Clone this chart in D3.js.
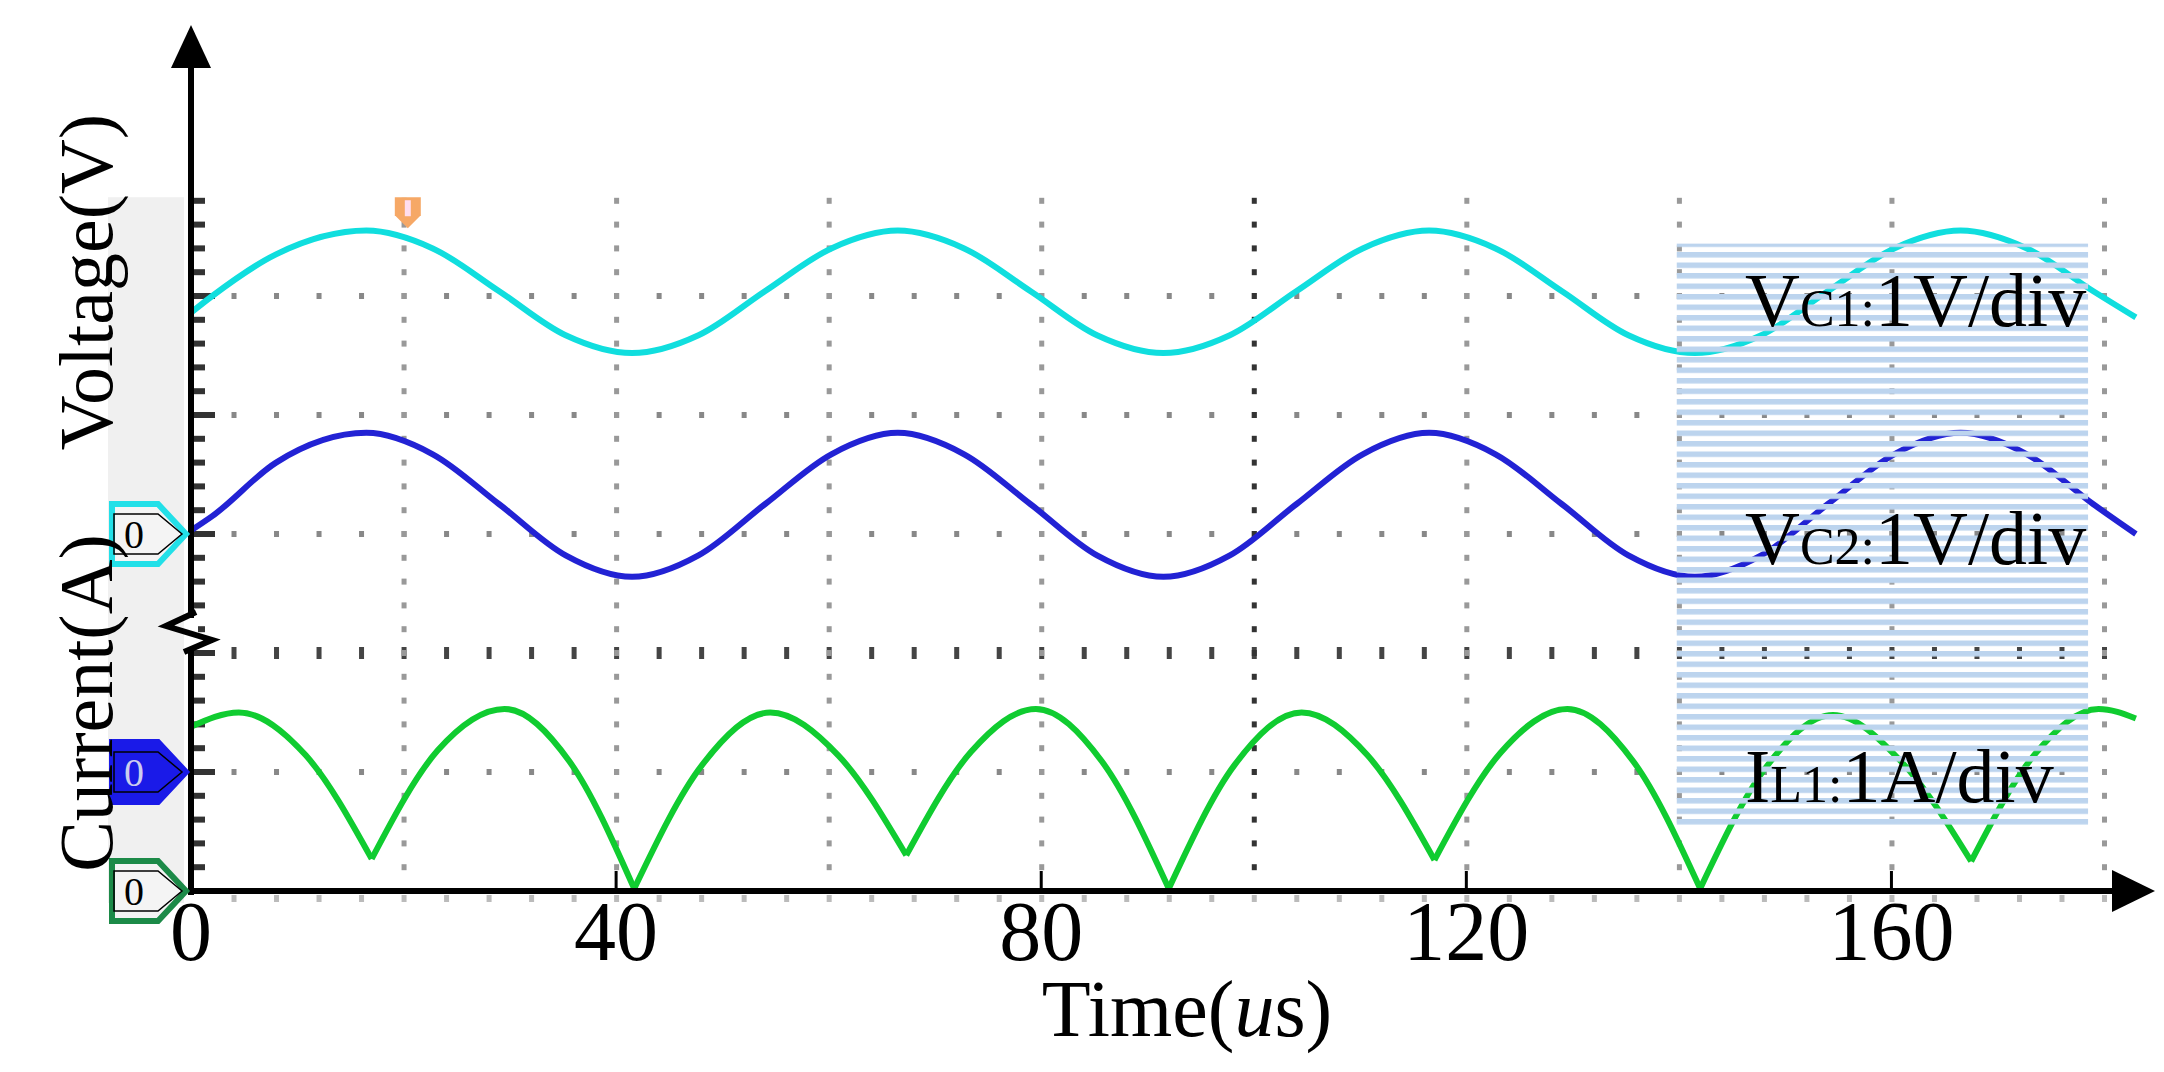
<!DOCTYPE html>
<html>
<head>
<meta charset="utf-8">
<script src="https://d3js.org/d3.v7.min.js"></script>
<style>
  body { margin: 0; background: #fff; }
  text { font-family: "Liberation Serif", "DejaVu Serif", serif; fill: #000; }
</style>
</head>
<body>
<svg id="chart" width="2164" height="1072"></svg>
<script>
// time axis (us)
var timeTicks = [0, 40, 80, 120, 160]
var gridTimes = [20, 40, 60, 80, 100, 120, 140, 160, 180]
var gridDivs = [1, 2, 3, 4, 5]

// traces, [time us, divisions above the x axis]
var vc1 = [[0, 4.86], [2, 5.0], [8, 5.35], [16.5, 5.55], [22.75, 5.40], [29, 5.04], [35.25, 4.67],
  [41.5, 4.52], [47.75, 4.67], [54, 5.04], [60.25, 5.40], [66.5, 5.55], [72.75, 5.40], [79, 5.04],
  [85.25, 4.67], [91.5, 4.52], [97.75, 4.67], [104, 5.04], [110.25, 5.40], [116.5, 5.55],
  [122.75, 5.40], [129, 5.04], [135.25, 4.67], [141.5, 4.52], [147.75, 4.67], [154, 5.04],
  [160.25, 5.40], [166.5, 5.55], [172.75, 5.40], [179, 5.04], [183, 4.82]]
var vc2 = [[0, 3.03], [2, 3.15], [8, 3.6], [16.5, 3.85], [22.75, 3.67], [29, 3.25], [35.25, 2.82],
  [41.5, 2.64], [47.75, 2.82], [54, 3.25], [60.25, 3.67], [66.5, 3.85], [72.75, 3.67], [79, 3.25],
  [85.25, 2.82], [91.5, 2.64], [97.75, 2.82], [104, 3.25], [110.25, 3.67], [116.5, 3.85],
  [122.75, 3.67], [129, 3.25], [135.25, 2.82], [141.5, 2.64], [147.75, 2.82], [154, 3.25],
  [160.25, 3.67], [166.5, 3.85], [172.75, 3.67], [179, 3.25], [183, 3.0]]
// inductor current, one arc between each pair of cusps
var il1Arcs = [
  [[0, 1.38], [4.5, 1.50], [10.8, 1.14], [17, 0.27]],
  [[17, 0.27], [23.2, 1.18], [29.5, 1.53], [35.6, 1.09], [41.7, 0.02]],
  [[41.7, 0.02], [48.1, 1.06], [54.5, 1.50], [60.9, 1.14], [67.3, 0.30]],
  [[67.3, 0.30], [73.4, 1.17], [79.5, 1.53], [85.7, 1.09], [92, 0.02]],
  [[92, 0.02], [98.2, 1.06], [104.5, 1.50], [110.7, 1.14], [117, 0.26]],
  [[117, 0.26], [123.2, 1.16], [129.5, 1.53], [135.7, 1.09], [142, 0.02]],
  [[142, 0.02], [148.2, 1.04], [154.5, 1.48], [161, 1.08], [167.5, 0.25]],
  [[167.5, 0.25], [173.5, 1.15], [179.5, 1.53], [183, 1.45]]
]
var traceLabels = [
  { main: 'V', sub: 'C1:', rest: '1V/div', div: 4.75 },
  { main: 'V', sub: 'C2:', rest: '1V/div', div: 2.75 },
  { main: 'I', sub: 'L1:', rest: '1A/div', div: 0.75 }
]
var markers = [
  { div: 3, color: '#22e0e8', fill: false },
  { div: 1, color: '#1a1ae8', fill: true },
  { div: 0, color: '#1c8a48', fill: false }
]

var svg = d3.select('#chart')
var x = d3.scaleLinear().domain([0, 180]).range([191, 2104])
var y = d3.scaleLinear().domain([0, 6]).range([891, 177])
var topDiv = 5.83

// grey strip left of the axis
svg.append('rect').attr('x', 108).attr('y', y(topDiv)).attr('width', 76)
  .attr('height', y(0) - y(topDiv) + 12).attr('fill', '#f0f0f0')

// dotted grid
var g = svg.append('g')
gridDivs.forEach(d => {
  d3.range(4, 181, 4).forEach(t => {
    g.append('rect').attr('x', x(t) - 2).attr('y', y(d) - (d == 2 ? 6 : 3))
      .attr('width', 5).attr('height', d == 2 ? 12 : 6).attr('fill', d == 2 ? '#444' : '#888')
  })
})
gridTimes.forEach(t => {
  d3.range(0.2, topDiv, 0.2).forEach(d => {
    g.append('rect').attr('x', x(t) - 2).attr('y', y(d) - 3)
      .attr('width', 5).attr('height', 6).attr('fill', t == 100 ? '#333' : '#999')
  })
})
// minor ticks on the y axis
d3.range(0.2, topDiv, 0.2).concat([0]).forEach(d => {
  g.append('rect').attr('x', 193).attr('y', y(d) - 3)
    .attr('width', Math.abs(d - Math.round(d)) < 0.01 ? 22 : 12).attr('height', 6).attr('fill', '#333')
})
// light ticks under the x axis
d3.range(4, 181, 4).forEach(t => {
  g.append('rect').attr('x', x(t) - 2).attr('y', y(0) + 4).attr('width', 5).attr('height', 7).attr('fill', '#bbb')
})

// traces
var line = d3.line().x(d => x(d[0])).y(d => y(d[1])).curve(d3.curveMonotoneX)
var plot = svg.append('g')
plot.append('path').attr('d', line(vc1)).attr('fill', 'none').attr('stroke', '#10dede').attr('stroke-width', 6)
plot.append('path').attr('d', line(vc2)).attr('fill', 'none').attr('stroke', '#2222d4').attr('stroke-width', 6)
il1Arcs.forEach(a => {
  plot.append('path').attr('d', line(a)).attr('fill', 'none').attr('stroke', '#10cc30').attr('stroke-width', 6)
})

// striped highlight over the last part
var defs = svg.append('defs')
var pat = defs.append('pattern').attr('id', 'stripes').attr('patternUnits', 'userSpaceOnUse')
  .attr('width', 10).attr('height', 10.5)
pat.append('rect').attr('width', 10).attr('height', 5.5).attr('fill', '#bcd4ee')
svg.append('rect').attr('x', x(139.8)).attr('y', y(5.44)).attr('width', x(178.5) - x(139.8))
  .attr('height', y(0.55) - y(5.44)).attr('fill', 'url(#stripes)')

// axes with arrows
svg.append('line').attr('x1', 191).attr('x2', 191).attr('y1', y(0) + 4).attr('y2', 60)
  .attr('stroke', '#000').attr('stroke-width', 6)
svg.append('path').attr('d', 'M191,25 L171,68 L211,68 Z').attr('fill', '#000')
svg.append('line').attr('x1', 188).attr('x2', 2120).attr('y1', y(0)).attr('y2', y(0))
  .attr('stroke', '#000').attr('stroke-width', 6)
svg.append('path').attr('d', 'M2155,' + y(0) + ' L2112,' + (y(0) - 21) + ' L2112,' + (y(0) + 21) + ' Z').attr('fill', '#000')
timeTicks.slice(1).forEach(t => {
  svg.append('line').attr('x1', x(t)).attr('x2', x(t)).attr('y1', y(0)).attr('y2', y(0) - 20)
    .attr('stroke', '#000').attr('stroke-width', 3)
})
svg.selectAll('.tick-label').data(timeTicks).join('text').attr('class', 'tick-label')
  .attr('x', d => x(d)).attr('y', 960).attr('text-anchor', 'middle').attr('font-size', 84).text(d => d)

// axis break mark
svg.append('rect').attr('x', 186).attr('y', 618).attr('width', 12).attr('height', 30).attr('fill', '#fff')
svg.append('path').attr('d', 'M184,652 L212,640 L166,626 L196,612')
  .attr('fill', 'none').attr('stroke', '#000').attr('stroke-width', 6)

// channel markers
markers.forEach(m => {
  var cy = y(m.div)
  var pg = svg.append('g')
  pg.append('path').attr('d', 'M112,' + (cy - 30) + ' L158,' + (cy - 30) + ' L186,' + cy + ' L158,' + (cy + 30) + ' L112,' + (cy + 30) + ' Z')
    .attr('fill', m.fill ? m.color : '#f4f4f4').attr('stroke', m.color).attr('stroke-width', 6)
  pg.append('path').attr('d', 'M114,' + (cy - 20) + ' L158,' + (cy - 20) + ' L182,' + cy + ' L158,' + (cy + 20) + ' L114,' + (cy + 20) + ' Z')
    .attr('fill', 'none').attr('stroke', '#000').attr('stroke-width', 1.5)
  pg.append('text').attr('x', 134).attr('y', cy + 14).attr('text-anchor', 'middle')
    .attr('font-size', 40).style('fill', m.fill ? '#cce' : '#000').text('0')
})
// trigger marker on top
svg.append('path').attr('d', 'M' + (x(20.4) - 13) + ',' + y(topDiv) + ' h26 v18 l-13,13 l-13,-13 Z')
  .attr('fill', '#f6a866')
svg.append('rect').attr('x', x(20.4) - 3).attr('y', y(topDiv) + 3).attr('width', 6).attr('height', 16).attr('fill', '#fde')

// trace labels
traceLabels.forEach(l => {
  var t = svg.append('text').attr('x', 1745).attr('y', y(l.div)).attr('font-size', 76)
  t.append('tspan').text(l.main)
  t.append('tspan').attr('font-size', 52).text(l.sub)
  t.append('tspan').text(l.rest)
})

// axis titles
svg.append('text').attr('transform', 'translate(112,282) rotate(-90)').attr('text-anchor', 'middle')
  .attr('font-size', 76).text('Voltage(V)')
svg.append('text').attr('transform', 'translate(112,703) rotate(-90)').attr('text-anchor', 'middle')
  .attr('font-size', 76).text('Current(A)')
var tt = svg.append('text').attr('x', 1187).attr('y', 1036).attr('text-anchor', 'middle').attr('font-size', 80)
tt.append('tspan').text('Time(')
tt.append('tspan').attr('font-style', 'italic').text('u')
tt.append('tspan').text('s)')
</script>
</body>
</html>
